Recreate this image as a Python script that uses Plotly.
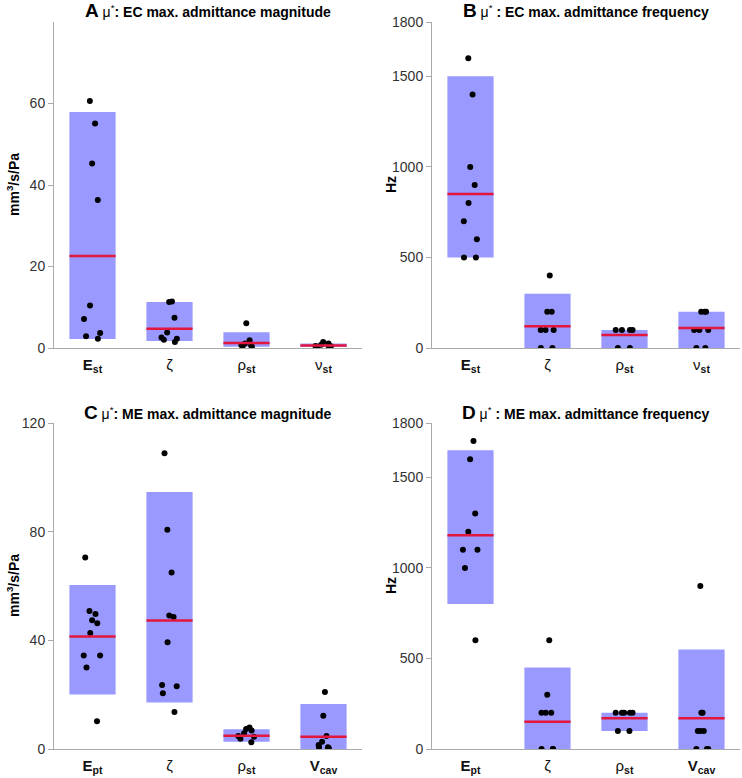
import plotly.graph_objects as go

# ---------------- data ----------------
# Panel A: EC max. admittance magnitude (mm^3/s/Pa)
cats_A = ["<b>E<sub>st</sub></b>", "ζ", "ρ<sub><b>st</b></sub>", "ν<sub><b>st</b></sub>"]
A_pts = [
    [60.6, 55.1, 45.3, 36.3, 10.4, 7.1, 3.7, 2.9, 2.3],
    [11.4, 11.3, 7.4, 3.8, 2.6, 2.3, 2.0, 1.5],
    [6.1, 1.9, 1.1, 0.7, 0.5, 0.6, 0.3],
    [1.5, 1.1, 0.8, 0.5, 0.4, 0.3, 0.2],
]
A_lo = [2.2, 1.7, 0.3, 0.25]
A_hi = [57.9, 11.3, 3.85, 1.1]
A_mu = [22.6, 4.7, 1.2, 0.6]

# Panel B: EC max. admittance frequency (Hz)
cats_B = ["<b>E<sub>st</sub></b>", "ζ", "ρ<sub><b>st</b></sub>", "ν<sub><b>st</b></sub>"]
B_pts = [
    [1600, 1400, 1000, 900, 800, 700, 600, 500, 500],
    [400, 200, 200, 100, 100, 100, 0, 0],
    [100, 100, 100, 100, 0, 0],
    [200, 200, 200, 100, 100, 100, 0, 0],
]
B_lo = [500, 0, 0, 0]
B_hi = [1500, 300, 100, 200]
B_mu = [850, 120, 72, 110]

# Panel C: ME max. admittance magnitude (mm^3/s/Pa)
cats_C = ["<b>E<sub>pt</sub></b>", "ζ", "ρ<sub><b>st</b></sub>", "<b>V<sub>cav</sub></b>"]
C_pts = [
    [70.5, 50.8, 49.7, 47.4, 46.3, 42.7, 34.4, 34.4, 30.0, 10.2],
    [108.9, 80.7, 65.0, 49.1, 48.6, 39.3, 23.6, 23.1, 20.5, 13.6],
    [7.9, 7.4, 6.8, 5.8, 4.8, 4.5, 3.8, 2.5],
    [21.0, 12.2, 4.8, 2.7, 1.5, 0.6, 0.6, 0.3],
]
C_lo = [20.1, 17.1, 2.7, 0.0]
C_hi = [60.4, 94.6, 7.3, 16.6]
C_mu = [41.4, 47.3, 4.9, 4.5]

# Panel D: ME max. admittance frequency (Hz)
cats_D = ["<b>E<sub>pt</sub></b>", "ζ", "ρ<sub><b>st</b></sub>", "<b>V<sub>cav</sub></b>"]
D_pts = [
    [1700, 1600, 1300, 1200, 1100, 1100, 1000, 600],
    [600, 300, 200, 200, 200, 0, 0, 0],
    [200, 200, 200, 200, 200, 100, 100],
    [900, 200, 200, 100, 100, 100, 0, 0, 0],
]
D_lo = [800, 0, 100, 0]
D_hi = [1650, 450, 200, 550]
D_mu = [1180, 150, 170, 170]

titles = [
    "<span style='font-size:19px'><b>A</b></span> μ<sup>*</sup><b>: EC max. admittance magnitude</b>",
    "<span style='font-size:19px'><b>B</b></span> μ<sup>*</sup> <b>: EC max. admittance frequency</b>",
    "<span style='font-size:19px'><b>C</b></span> μ<sup>*</sup><b>: ME max. admittance magnitude</b>",
    "<span style='font-size:19px'><b>D</b></span> μ<sup>*</sup> <b>: ME max. admittance frequency</b>",
]
ylabels = ["<b>mm<sup>3</sup>/s/Pa</b>", "<b>Hz</b>", "<b>mm<sup>3</sup>/s/Pa</b>", "<b>Hz</b>"]
yticks = [[0, 20, 40, 60], [0, 500, 1000, 1500, 1800], [0, 40, 80, 120], [0, 500, 1000, 1500, 1800]]
yranges = [[0, 80], [0, 1800], [0, 120], [0, 1800]]

# ---------------- layout geometry ----------------
W, H = 742, 778
xdoms = [(54, 362), (432, 740), (54, 362), (432, 740)]   # pixels
ydoms = [(22, 348), (22, 348), (423, 749), (423, 749)]   # pixels


def fx(px):
    return px / W


def fy(py):
    return 1 - py / H


BAR_W = 0.6
BAR_COLOR = "#9999ff"
RED = "#e3173e"
AXIS_GRAY = "#aaaaaa"
FONT = "Liberation Sans, Arial, sans-serif"

panels = [
    (cats_A, A_pts, A_lo, A_hi, A_mu),
    (cats_B, B_pts, B_lo, B_hi, B_mu),
    (cats_C, C_pts, C_lo, C_hi, C_mu),
    (cats_D, D_pts, D_lo, D_hi, D_mu),
]

fig = go.Figure()
annotations = []
for p, (cats, pts, lo, hi, mu) in enumerate(panels):
    xa = "x" if p == 0 else f"x{p+1}"
    ya = "y" if p == 0 else f"y{p+1}"
    pos = list(range(1, len(cats) + 1))
    # interval bars
    fig.add_trace(go.Bar(
        x=pos, y=[h - l for h, l in zip(hi, lo)], base=lo, width=BAR_W,
        marker=dict(color=BAR_COLOR, line=dict(width=0)),
        xaxis=xa, yaxis=ya, showlegend=False, hoverinfo="skip"))
    # mu* red lines
    for c, m in zip(pos, mu):
        fig.add_trace(go.Scatter(
            x=[c - BAR_W / 2, c + BAR_W / 2], y=[m, m], mode="lines",
            line=dict(color=RED, width=2.5), xaxis=xa, yaxis=ya,
            showlegend=False, hoverinfo="skip"))
    # jittered points
    for c, vals in zip(pos, pts):
        fig.add_trace(go.Box(
            x=[c] * len(vals), y=vals, boxpoints="all", jitter=0.45, pointpos=0,
            width=BAR_W, fillcolor="rgba(0,0,0,0)",
            line=dict(width=0, color="rgba(0,0,0,0)"),
            marker=dict(color="black", size=6),
            xaxis=xa, yaxis=ya, showlegend=False, hoveron="points"))

    x0, x1 = xdoms[p]
    y0, y1 = ydoms[p]
    xkey = "xaxis" if p == 0 else f"xaxis{p+1}"
    ykey = "yaxis" if p == 0 else f"yaxis{p+1}"
    fig.layout[xkey] = dict(
        domain=[fx(x0), fx(x1)], anchor=ya, range=[0.5, len(cats) + 0.5],
        tickvals=pos, ticktext=cats, showgrid=False, zeroline=False,
        showline=True, linecolor=AXIS_GRAY, linewidth=1, ticks="",
        ticklabelstandoff=3, automargin=False,
        tickfont=dict(size=15, color="#111", family=FONT), fixedrange=True)
    fig.layout[ykey] = dict(
        domain=[fy(y1), fy(y0)], anchor=xa, range=yranges[p],
        tickvals=yticks[p], showgrid=False, zeroline=False,
        showline=True, linecolor=AXIS_GRAY, linewidth=1, ticks="outside",
        ticklen=5, tickcolor=AXIS_GRAY, automargin=False,
        tickfont=dict(size=14, color="#333", family=FONT), fixedrange=True)

    annotations.append(dict(
        text=titles[p], xref="paper", yref="paper",
        x=fx((x0 + x1) / 2), y=fy(y0 - 11),
        xanchor="center", yanchor="middle", showarrow=False,
        font=dict(size=14, color="black", family=FONT)))
    annotations.append(dict(
        text=ylabels[p], xref="paper", yref="paper",
        x=fx(x0 - 41), y=fy((y0 + y1) / 2), textangle=-90,
        xanchor="center", yanchor="middle", showarrow=False,
        font=dict(size=14, color="black", family=FONT)))

fig.update_layout(
    template="none",
    width=W, height=H, margin=dict(l=0, r=0, t=0, b=0, autoexpand=False),
    paper_bgcolor="white", plot_bgcolor="white",
    barmode="overlay", boxmode="overlay", showlegend=False,
    annotations=annotations, font=dict(family=FONT))

# remove the default 8px page margin so the figure sits at the window origin
fig.write_html("out.html", config={"displayModeBar": False},
               post_script="document.body.style.margin='0px';")
